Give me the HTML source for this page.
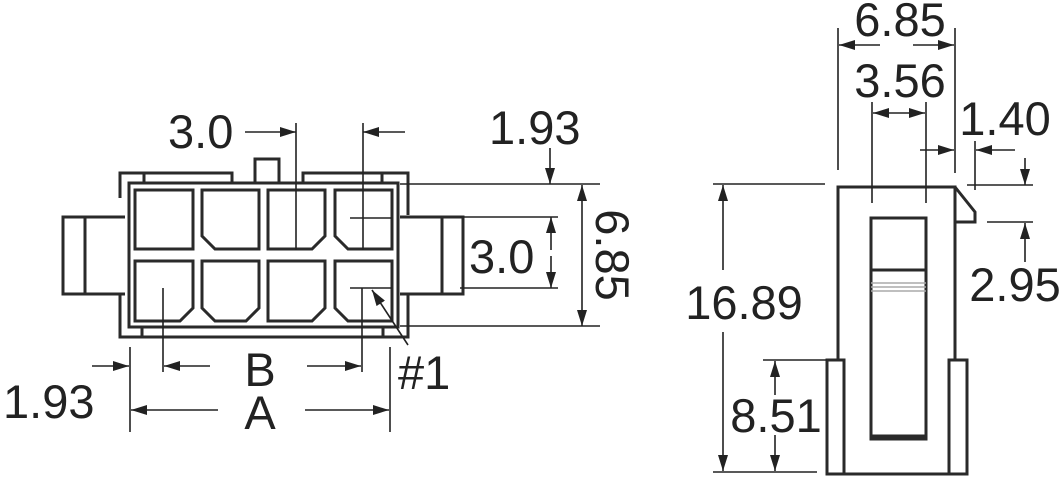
<!DOCTYPE html>
<html><head><style>
html,body{margin:0;padding:0;background:#fff;}
svg{display:block;}
text{font-family:"Liberation Sans",sans-serif;font-size:47px;fill:#222;}
</style></head><body>
<svg width="1064" height="479" viewBox="0 0 1064 479" xmlns="http://www.w3.org/2000/svg">
<defs>
<marker id="a" viewBox="0 0 16 10" refX="16" refY="5" markerWidth="16" markerHeight="10" markerUnits="userSpaceOnUse" orient="auto">
<path d="M0,0 L16,5 L0,10 Z" fill="#222"/>
</marker>
</defs>
<g fill="none" stroke="#2a2a2a" stroke-width="3">
<path d="M120,198 L120,173 L232,173 L232,183"/>
<path d="M303,183 L303,173 L408,173 L408,215"/>
<path d="M120,294 L120,337 L408,337 L408,295"/>
<rect x="255" y="159" width="24" height="24"/>
<rect x="129" y="183" width="269" height="144"/>
<line x1="144" y1="173" x2="144" y2="183"/>
<line x1="382" y1="173" x2="382" y2="183"/>
<line x1="142" y1="327" x2="142" y2="337"/>
<line x1="383" y1="327" x2="383" y2="337"/>
<path d="M125,217 L63,217 L63,294 L125,294"/>
<line x1="85" y1="217" x2="85" y2="294"/>
<path d="M400,217 L463,217 L463,294 L400,294"/>
<line x1="442" y1="217" x2="442" y2="294"/>
<path d="M135,190 H193 V249 H135 Z"/>
<path d="M202,190 H259 V249 H215 L202,236 Z"/>
<path d="M268,190 H325 V236 L312,249 H268 Z"/>
<path d="M335,190 H392 V249 H348 L335,236 Z"/>
<path d="M135,261 H193 V308 L180,321 H135 Z"/>
<path d="M202,261 H259 V308 L246,321 H215 L202,308 Z"/>
<path d="M268,261 H325 V308 L312,321 H268 Z"/>
<path d="M335,261 H392 V321 H348 L335,308 Z"/>
<path d="M838,360 L838,187 L955,187 L955,360"/>
<path d="M955,187 L975,212 L975,222 L955,222"/>
<rect x="827" y="360" width="17" height="114"/>
<rect x="949" y="360" width="18" height="114"/>
<line x1="844" y1="474" x2="949" y2="474"/>
<rect x="871" y="218" width="55" height="221"/>
<line x1="871" y1="270" x2="926" y2="270"/>
<line x1="871" y1="436" x2="926" y2="436"/>
</g>
<g stroke="#aaa" stroke-width="1.5">
<line x1="871" y1="283" x2="926" y2="283"/>
<line x1="871" y1="287" x2="926" y2="287"/>
<line x1="871" y1="291" x2="926" y2="291"/>
</g>
<g fill="none" stroke="#222" stroke-width="1.6">
<line x1="296" y1="123" x2="296" y2="250"/>
<line x1="363" y1="123" x2="363" y2="250"/>
<line x1="245" y1="132" x2="296" y2="132" marker-end="url(#a)"/>
<line x1="405" y1="132" x2="363" y2="132" marker-end="url(#a)"/>
<line x1="350" y1="218" x2="392" y2="218"/>
<line x1="350" y1="288" x2="392" y2="288"/>
<line x1="400" y1="184" x2="600" y2="184"/>
<line x1="400" y1="326" x2="600" y2="326"/>
<line x1="460" y1="217" x2="558" y2="217"/>
<line x1="460" y1="288" x2="558" y2="288"/>
<line x1="550" y1="148" x2="550" y2="184" marker-end="url(#a)"/>
<line x1="551" y1="250" x2="551" y2="217" marker-end="url(#a)"/>
<line x1="551" y1="256" x2="551" y2="288" marker-end="url(#a)"/>
<line x1="582" y1="255" x2="582" y2="185" marker-end="url(#a)"/>
<line x1="582" y1="255" x2="582" y2="326" marker-end="url(#a)"/>
<line x1="163" y1="288" x2="163" y2="372"/>
<line x1="362" y1="288" x2="362" y2="372"/>
<line x1="130" y1="347" x2="130" y2="432"/>
<line x1="390" y1="347" x2="390" y2="432"/>
<line x1="210" y1="366" x2="164" y2="366" marker-end="url(#a)"/>
<line x1="307" y1="366" x2="361" y2="366" marker-end="url(#a)"/>
<line x1="92" y1="366" x2="129" y2="366" marker-end="url(#a)"/>
<line x1="218" y1="410" x2="131" y2="410" marker-end="url(#a)"/>
<line x1="305" y1="410" x2="389" y2="410" marker-end="url(#a)"/>
<line x1="408" y1="345" x2="372" y2="290" marker-end="url(#a)"/>
<line x1="838" y1="28" x2="838" y2="170"/>
<line x1="955" y1="28" x2="955" y2="173"/>
<line x1="880" y1="45" x2="839" y2="45" marker-end="url(#a)"/>
<line x1="913" y1="45" x2="954" y2="45" marker-end="url(#a)"/>
<line x1="872" y1="102" x2="872" y2="203"/>
<line x1="926" y1="102" x2="926" y2="203"/>
<line x1="899" y1="113" x2="873" y2="113" marker-end="url(#a)"/>
<line x1="899" y1="113" x2="925" y2="113" marker-end="url(#a)"/>
<line x1="975" y1="141" x2="975" y2="190"/>
<line x1="920" y1="150" x2="954" y2="150" marker-end="url(#a)"/>
<line x1="1015" y1="150" x2="976" y2="150" marker-end="url(#a)"/>
<line x1="967" y1="185" x2="1033" y2="185"/>
<line x1="987" y1="222" x2="1033" y2="222"/>
<line x1="1025" y1="158" x2="1025" y2="185" marker-end="url(#a)"/>
<line x1="1025" y1="262" x2="1025" y2="223" marker-end="url(#a)"/>
<line x1="713" y1="184" x2="825" y2="184"/>
<line x1="713" y1="472" x2="817" y2="472"/>
<line x1="763" y1="360" x2="827" y2="360"/>
<line x1="723" y1="270" x2="723" y2="185" marker-end="url(#a)"/>
<line x1="723" y1="332" x2="723" y2="471" marker-end="url(#a)"/>
<line x1="775" y1="395" x2="775" y2="361" marker-end="url(#a)"/>
<line x1="775" y1="435" x2="775" y2="471" marker-end="url(#a)"/>
</g>
<g>
<text x="168" y="148">3.0</text>
<text x="489" y="144">1.93</text>
<text x="469" y="273">3.0</text>
<text transform="translate(596,255) rotate(90)" text-anchor="middle">6.85</text>
<text x="260" y="386" text-anchor="middle">B</text>
<text x="260" y="429" text-anchor="middle">A</text>
<text x="3" y="418">1.93</text>
<text x="398" y="389">#1</text>
<text x="900" y="36" text-anchor="middle">6.85</text>
<text x="900" y="97" text-anchor="middle">3.56</text>
<text x="1005" y="135" text-anchor="middle">1.40</text>
<text x="1015" y="301" text-anchor="middle">2.95</text>
<text x="744" y="319" text-anchor="middle">16.89</text>
<text x="776" y="432" text-anchor="middle">8.51</text>
</g>
</svg>
</body></html>
